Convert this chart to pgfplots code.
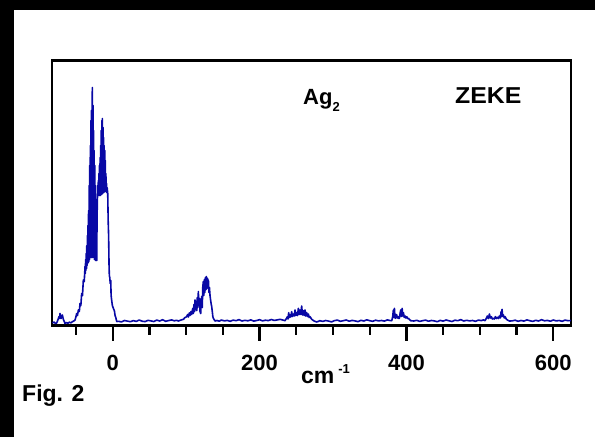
\documentclass[border=0pt]{standalone}
\usepackage{pgfplots}
\pgfplotsset{compat=1.18}
\usepackage{fontspec}
\setmainfont{Liberation Sans}
\definecolor{specblue}{RGB}{8,8,165}
\newcommand{\figfont}{\fontsize{23}{26}\selectfont\bfseries}
\newcommand{\tickfont}{\fontsize{22}{25}\selectfont\bfseries}

\begin{document}
\begin{tikzpicture}
  % page frame, 1pt = 1px of the reference
  \fill[white] (0,0) rectangle (595pt,-437pt);
  \fill[black] (0,0) rectangle (595pt,-9.5pt);
  \fill[black] (0,0) rectangle (14pt,-437pt);
  \useasboundingbox (0,0) rectangle (595pt,-437pt);

  \begin{axis}[
    at={(52pt,-325.5pt)}, anchor=south west,
    scale only axis, width=519pt, height=265pt,
    xmin=-82.7, xmax=624.1, ymin=0, ymax=265,
    axis line style={line width=2.5pt},
    xtick={0,200,400,600},
    minor xtick={-50,50,100,150,250,300,350,450,500,550},
    ytick=\empty,
    tick pos=bottom,
    tick align=outside,
    major tick length=15pt, minor tick length=9pt,
    every tick/.style={black, line width=2.2pt},
    /pgf/number format/assume math mode=true,
    xticklabel style={font=\tickfont, anchor=base, yshift=-30pt},
    clip=false,
  ]
    \addplot[specblue, line width=1.6pt, line join=round] coordinates {
      (-82,2.5) (-80,3.5) (-78,2.0) (-76.3,2.5) (-74.5,6) (-73.1,9) (-72.4,7)
      (-71.8,12) (-70.4,7) (-69.5,9) (-68.6,10.5) (-67.2,6) (-66,4) (-65,2)
      (-63,3) (-61,2.2) (-59,3.4) (-57,2.6) (-55,3.8) (-53,4.5) (-51.3,5.5)
      (-50,9) (-49.1,12) (-48,10) (-46.8,15.5) (-45.5,14) (-44.5,22)
      (-43.4,20) (-42.3,32) (-41.2,30) (-40,45.5) (-38.8,44) (-37.7,59)
      (-37.3,52) (-36.9,66) (-36.5,55) (-36.1,72) (-35.7,57) (-35.3,80)
      (-34.9,60) (-34.5,90) (-34.1,62) (-33.7,100) (-33.3,63) (-32.9,115)
      (-32.5,64) (-32.1,140) (-31.7,66) (-31.3,160) (-30.9,68) (-30.5,180)
      (-30.1,70) (-29.7,205) (-29.3,68) (-28.9,215) (-28.5,70) (-28.1,225)
      (-27.7,238) (-27.3,68) (-26.9,220) (-26.5,70) (-26.1,195) (-25.7,68)
      (-25.3,175) (-24.9,66) (-24.5,160) (-24.1,66) (-23.6,140) (-23.2,65)
      (-22.3,90) (-21.8,65) (-21.3,110) (-20.8,128) (-20.4,140) (-20,130)
      (-19.6,145) (-19.2,131) (-18.8,152) (-18.4,130) (-18,160) (-17.6,132)
      (-17.2,168) (-16.8,130) (-16.4,180) (-16,133) (-15.6,195) (-15.2,131)
      (-14.8,205) (-14.4,134) (-14.1,207) (-13.7,132) (-13.3,198) (-12.9,135)
      (-12.5,188) (-12.1,133) (-11.7,180) (-11.3,136) (-10.9,175) (-10.5,134)
      (-10.1,165) (-9.7,136) (-9.3,152) (-8.9,135) (-8.5,142) (-8.1,133)
      (-7.6,138) (-6.8,132) (-6.2,105) (-5.6,90) (-5,60) (-4.6,50) (-4,48)
      (-3.4,42) (-2.7,45) (-2.2,30) (-1.4,25) (-0.5,20) (0.5,18) (1.5,16)
      (2.2,15) (3.2,10) (4.2,8) (5.4,4)
      (8,4.2) (12,3.6) (16,5.0) (20,4.4) (24,3.8) (28,4.9) (32,4.1) (36,5.5)
      (40,4.3) (44,3.9) (48,5.2) (52,4.6) (56,4.0) (60,5.4) (64,4.5) (68,5.8)
      (72,4.2) (76,4.9) (80,5.6) (84,4.7) (87,5.2)
      (89.4,4.5) (93,5.5) (96.2,6.2) (98.5,8) (100.7,8.8) (102,11) (103,8.5)
      (104.2,12.5) (105.3,10) (106.5,14) (107.5,11) (108.9,17) (109.8,12)
      (110.6,21) (111.4,14) (112.1,25.5) (112.8,16) (113.6,24) (114.4,15)
      (115.2,28) (116,18) (116.6,34) (117.3,20) (118.1,27) (118.9,14)
      (119.8,12) (120.5,24) (121.2,29) (121.9,18) (122.6,38) (123.4,44)
      (124.1,30) (124.8,46) (125.5,33) (126.2,48) (127,36) (127.6,49)
      (128.3,38) (129,47) (129.7,37) (130.3,45.5) (131,33) (131.7,38)
      (132.5,30) (133.2,26) (134,22) (134.8,18.8) (135.6,14) (136.3,9)
      (137.1,7.2) (139.3,4.5)
      (142,5.0) (145,4.3) (148,5.5) (152,4.6) (156,5.1) (160,4.2) (164,5.4)
      (168,4.8) (172,5.9) (176,4.5) (180,5.2) (184,4.7) (188,5.6) (192,4.4)
      (196,5.0) (200,5.8) (204,4.6) (208,5.3) (212,4.9) (216,6.0) (220,5.1)
      (224,5.6) (228,6.2) (232,5.4)
      (234.6,4.8) (236.5,7) (237.8,8.8) (238.7,6.5) (239.6,12.8) (240.5,8)
      (241.4,10.5) (242.5,8.5) (243.7,13.8) (244.8,9) (246,11.5) (247.2,9.5)
      (248.3,15.5) (249.4,10) (250.5,12.8) (251.6,10) (252.8,17.2)
      (253.9,11) (255.1,15.5) (256.2,11) (257.3,19.5) (258.4,10.5)
      (259.6,14.8) (260.7,10) (261.9,15.5) (263,9.5) (264.2,12.8) (265.3,9)
      (266.4,11.5) (267.5,8) (268.7,8.8) (271,6.2) (274.2,4.5)
      (278,3.5) (282,4.8) (286,4.1) (290,5.0) (294,4.4) (298,3.6) (302,4.9)
      (306,5.4) (310,4.2) (314,4.8) (318,5.5) (322,4.3) (326,5.1) (330,4.6)
      (334,3.9) (338,5.2) (342,4.5) (346,5.7) (350,4.8) (354,4.2) (358,5.3)
      (362,4.6) (366,5.0) (370,4.4) (374,5.6) (378,4.9)
      (380,4.8) (381.3,9) (382.2,15.5) (383,8) (383.6,17.2) (384.3,9)
      (385,7.2) (385.9,11) (386.8,10.5) (387.7,7.5) (388.6,8.8) (389.5,7)
      (390.4,7.2) (391.3,12) (392.2,15.5) (393.1,9) (394.1,17.2) (395,9.5)
      (395.9,12.8) (397,8) (398.2,9.5) (399.3,7.5) (400.4,8.8) (401.5,7)
      (402.7,7.2) (405.9,4.8)
      (410,4.5) (414,5.2) (418,4.1) (422,4.8) (426,5.4) (430,4.3) (434,5.0)
      (438,4.6) (442,3.8) (446,5.1) (450,4.4) (454,5.5) (458,4.7) (462,4.0)
      (466,5.3) (470,4.8) (474,5.9) (478,4.5) (482,5.2) (486,4.6) (490,5.0)
      (494,4.2) (498,5.4) (502,4.9) (505,5.6)
      (507,4.8) (508.7,7) (510.2,9.5) (511.6,7) (513,11.5) (514.3,7.5)
      (515.7,8.8) (517,6.5) (518.4,7.2) (519.7,6.5) (521.1,8.8) (522.5,7)
      (523.9,8.2) (525.2,7) (526.6,9.5) (527.8,7.5) (528.9,13.8) (529.5,9)
      (530.2,16.2) (531.1,9) (532.1,10.5) (533.2,7.5) (534.4,8.8)
      (535.9,6.5) (537.5,5.5) (540.3,4.5)
      (544,4.6) (548,5.3) (552,4.2) (556,5.0) (560,4.4) (564,5.6) (568,4.8)
      (572,4.1) (576,5.2) (580,4.5) (584,5.8) (588,4.7) (592,5.1) (596,4.3)
      (600,5.5) (604,4.6) (608,5.0) (612,4.2) (616,5.4) (620,4.8) (624,5.0)
    };
  \end{axis}

  \node[anchor=base west, inner sep=0pt,
        font=\fontsize{22}{25}\selectfont\bfseries] at (303pt,-104pt)
    {Ag\raisebox{-7pt}{\fontsize{13}{14}\selectfont\bfseries 2}};
  \node[anchor=base west, inner sep=0pt, xscale=1.08,
        font=\fontsize{23}{26}\selectfont\bfseries] at (455pt,-103pt) {ZEKE};
  \node[anchor=base west, inner sep=0pt, font=\figfont] at (301pt,-383pt)
    {cm\,\raisebox{10pt}{\fontsize{13}{14}\selectfont\bfseries -1}};
  \node[anchor=base west, inner sep=0pt, font=\figfont] at (22pt,-401pt) {Fig. 2};
\end{tikzpicture}
\end{document}
